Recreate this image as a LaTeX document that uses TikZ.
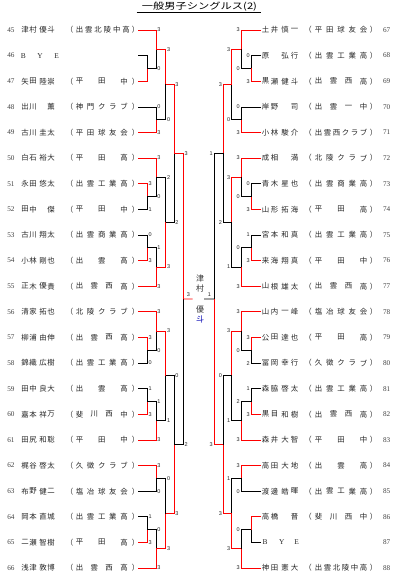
\documentclass[tikz,border=0pt]{standalone}
\usepackage{fontspec}
\setmainfont{Liberation Serif}
\newfontfamily\jpfont{Noto Sans CJK JP}
\newfontfamily\digfont{Liberation Sans}
\usetikzlibrary{calc}

\tikzset{
  win/.style={draw=red, line width=0.8pt},
  lose/.style={draw=black, line width=0.8pt},
  nm/.style={font=\jpfont\fontsize{7.4}{7.4}\selectfont, inner sep=0pt, text=black!85},
  bye/.style={font=\fontsize{7.4}{7.4}\selectfont, inner sep=0pt, text=black!85},
  numst/.style={font=\fontsize{7.2}{7.2}\selectfont, inner sep=0pt, text=black!75},
  scl/.style={font=\digfont\fontsize{5.5}{5.5}\selectfont, inner sep=0pt, anchor=west, xshift=1.2pt, text=black!85},
  scr/.style={font=\digfont\fontsize{5.5}{5.5}\selectfont, inner sep=0pt, anchor=east, xshift=-1.2pt, text=black!85},
  scc/.style={font=\digfont\fontsize{5.5}{5.5}\selectfont, inner sep=0pt, text=black!85},
  champ/.style={font=\jpfont\fontsize{8}{8}\selectfont, inner sep=0pt, text=black!80},
}

% match: #1 top entry, #2 bottom entry, #3 level, #4 new mid, #5/#6 styles, #7/#8 scores, #9 label style
\newcommand\bmatch[9]{%
  \coordinate (tmp) at ($(#1)!.5!(#2)$);
  \coordinate (#4) at (tmp -| #3);
  \draw[#5] (#1) -| (#4);
  \draw[#6] (#2) -| (#4);
  \node[#9] at (#1 -| #3) {#7};
  \node[#9] at (#2 -| #3) {#8};
}

\newcommand\plL[8]{%
  \coordinate (P#1) at (138,#2);
  \node[numst] (n#1) at (11,#2) {#1};
  \node[nm] at (25,#2) {#3};
  \node[nm] at (33,#2) {#4};
  \ifx\relax#6\relax \node[nm] at (51,#2) {#5};\else \node[nm] at (43,#2) {#5};\node[nm] at (51,#2) {#6};\fi
  \node[nm] at (69.5,#2) {（};
  \node[nm] at (135.5,#2) {）};
  \pgfmathsetmacro\aflast{#7==6 ? 126 : 124}
  \foreach \ch [count=\kk] in {#8} {\pgfmathsetmacro\ax{79.5+(\kk-1)*(\aflast-79.5)/(#7-1)}\node[nm] at (\ax,#2) {\ch};}
}
\newcommand\plR[8]{%
  \coordinate (P#1) at (261,#2);
  \node[numst] (n#1) at (386.7,#2) {#1};
  \node[nm] at (265.5,#2) {#3};
  \node[nm] at (274.5,#2) {#4};
  \ifx\relax#6\relax \node[nm] at (294.5,#2) {#5};\else \node[nm] at (285,#2) {#5};\node[nm] at (294.5,#2) {#6};\fi
  \node[nm] at (308,#2) {（};
  \node[nm] at (373.5,#2) {）};
  \foreach \ch [count=\kk] in {#8} {\pgfmathsetmacro\ax{318.5+(\kk-1)*(363.5-318.5)/(#7-1)}\node[nm] at (\ax,#2) {\ch};}
}
\newcommand\byeL[2]{%
  \coordinate (P#1) at (138,#2);
  \node[numst] (n#1) at (11,#2) {#1};
  \node[bye] at (23.3,#2) {B};\node[bye] at (40,#2) {Y};\node[bye] at (56.7,#2) {E};
}
\newcommand\byeR[2]{%
  \coordinate (P#1) at (261,#2);
  \node[numst] (n#1) at (386.7,#2) {#1};
  \node[bye] at (265,#2) {B};\node[bye] at (281.7,#2) {Y};\node[bye] at (296.7,#2) {E};
}

\begin{document}
\begin{tikzpicture}[x=1pt,y=-1pt]
\useasboundingbox (0,0) rectangle (404,587);
\fill[white] (0,0) rectangle (404,587);

% title
\node[font=\jpfont\fontsize{9}{9}\selectfont, inner sep=0pt, xscale=1.25] (title) at (199.5,6.2) {一般男子シングルス(2)};
\coordinate (ulA) at (136.7,12.2);
\coordinate (ulB) at (260.5,12.2);
\draw[line width=0.8pt] (ulA) -- (ulB);

% level coordinates
\coordinate (X1) at (147.3,0); \coordinate (X2) at (156,0); \coordinate (X3) at (165.7,0);
\coordinate (X4) at (174,0); \coordinate (X5) at (183.3,0);
\coordinate (R1) at (251,0); \coordinate (R2) at (241,0); \coordinate (R3) at (231.7,0);
\coordinate (R4) at (223.3,0); \coordinate (R5) at (214,0);

% left players
\plL{45}{30.0}{津}{村}{優}{斗}{6}{出,雲,北,陵,中,高}
\byeL{46}{55.6}
\plL{47}{81.2}{矢}{田}{陸}{崇}{3}{平,田,中}
\plL{48}{106.9}{出}{川}{薫}{}{5}{神,門,ク,ラ,ブ}
\plL{49}{132.5}{古}{川}{圭}{太}{5}{平,田,球,友,会}
\plL{50}{158.1}{白}{石}{裕}{大}{3}{平,田,高}
\plL{51}{183.7}{永}{田}{悠}{太}{5}{出,雲,工,業,高}
\plL{52}{209.3}{田}{中}{傑}{}{3}{平,田,中}
\plL{53}{235.0}{古}{川}{翔}{太}{5}{出,雲,商,業,高}
\plL{54}{260.6}{小}{林}{剛}{也}{3}{出,雲,高}
\plL{55}{286.2}{正}{木}{優}{貴}{4}{出,雲,西,高}
\plL{56}{311.8}{清}{家}{拓}{也}{5}{北,陵,ク,ラ,ブ}
\plL{57}{337.4}{柳}{浦}{由}{伸}{4}{出,雲,西,高}
\plL{58}{363.1}{錦}{織}{広}{樹}{5}{出,雲,工,業,高}
\plL{59}{388.7}{田}{中}{良}{大}{3}{出,雲,高}
\plL{60}{414.3}{嘉}{本}{祥}{万}{4}{斐,川,西,中}
\plL{61}{439.9}{田}{尻}{和}{聡}{3}{平,田,中}
\plL{62}{465.5}{梶}{谷}{啓}{太}{5}{久,徴,ク,ラ,ブ}
\plL{63}{491.2}{布}{野}{健}{二}{5}{塩,冶,球,友,会}
\plL{64}{516.8}{岡}{本}{直}{城}{5}{出,雲,工,業,高}
\plL{65}{542.4}{二}{瀬}{智}{樹}{3}{平,田,高}
\plL{66}{568.0}{浅}{津}{敦}{博}{4}{出,雲,西,高}

% right players
\plR{67}{30.0}{土}{井}{慎}{一}{5}{平,田,球,友,会}
\plR{68}{55.6}{原}{}{弘}{行}{5}{出,雲,工,業,高}
\plR{69}{81.2}{黒}{瀬}{健}{斗}{4}{出,雲,西,高}
\plR{70}{106.9}{岸}{野}{司}{}{4}{出,雲,一,中}
\plR{71}{132.5}{小}{林}{駿}{介}{6}{出,雲,西,ク,ラ,ブ}
\plR{72}{158.1}{成}{相}{満}{}{5}{北,陵,ク,ラ,ブ}
\plR{73}{183.7}{青}{木}{星}{也}{5}{出,雲,商,業,高}
\plR{74}{209.3}{山}{形}{拓}{海}{3}{平,田,高}
\plR{75}{235.0}{宮}{本}{和}{真}{5}{出,雲,工,業,高}
\plR{76}{260.6}{来}{海}{翔}{真}{3}{平,田,中}
\plR{77}{286.2}{山}{根}{雄}{太}{4}{出,雲,西,高}
\plR{78}{311.8}{山}{内}{一}{峰}{5}{塩,冶,球,友,会}
\plR{79}{337.4}{公}{田}{達}{也}{3}{平,田,高}
\plR{80}{363.1}{冨}{岡}{幸}{行}{5}{久,徴,ク,ラ,ブ}
\plR{81}{388.7}{森}{脇}{啓}{太}{5}{出,雲,工,業,高}
\plR{82}{414.3}{黒}{目}{和}{樹}{4}{出,雲,西,高}
\plR{83}{439.9}{森}{井}{大}{智}{3}{平,田,中}
\plR{84}{465.5}{高}{田}{大}{地}{3}{出,雲,高}
\plR{85}{491.2}{渡}{邊}{皓}{暉}{5}{出,雲,工,業,高}
\plR{86}{516.8}{高}{橋}{晋}{}{4}{斐,川,西,中}
\byeR{87}{542.4}
\plR{88}{568.0}{神}{田}{憲}{大}{6}{出,雲,北,陵,中,高}

% left bracket
\bmatch{P46}{P47}{X1}{a1}{lose}{win}{}{}{scl}
\bmatch{P45}{a1}{X2}{a2}{win}{lose}{3}{0}{scl}
\bmatch{P48}{P49}{X2}{a3}{lose}{win}{0}{3}{scl}
\bmatch{a2}{a3}{X3}{a4}{win}{lose}{3}{0}{scl}
\bmatch{P51}{P52}{X1}{b1}{win}{lose}{3}{1}{scl}
\bmatch{P50}{b1}{X2}{b2}{win}{lose}{3}{0}{scl}
\bmatch{P53}{P54}{X1}{b3}{lose}{win}{0}{3}{scl}
\bmatch{b3}{P55}{X2}{b4}{lose}{win}{1}{3}{scl}
\bmatch{b2}{b4}{X3}{b5}{lose}{win}{2}{3}{scl}
\bmatch{a4}{b5}{X4}{ab}{win}{lose}{3}{2}{scl}
\bmatch{P57}{P58}{X1}{c1}{win}{lose}{3}{0}{scl}
\bmatch{P56}{c1}{X2}{c2}{win}{lose}{3}{0}{scl}
\bmatch{P59}{P60}{X1}{c3}{lose}{win}{1}{3}{scl}
\bmatch{c3}{P61}{X2}{c4}{lose}{win}{1}{3}{scl}
\bmatch{c2}{c4}{X3}{c5}{win}{lose}{3}{1}{scl}
\bmatch{P62}{P63}{X2}{d1}{win}{lose}{3}{0}{scl}
\bmatch{P64}{P65}{X1}{d2}{lose}{win}{1}{3}{scl}
\bmatch{d2}{P66}{X2}{d3}{lose}{win}{0}{3}{scl}
\bmatch{d1}{d3}{X3}{d4}{lose}{win}{0}{3}{scl}
\bmatch{c5}{d4}{X4}{cd}{lose}{win}{0}{3}{scl}
\bmatch{ab}{cd}{X5}{LW}{win}{lose}{3}{2}{scl}

% right bracket
\bmatch{P68}{P69}{R1}{e1}{lose}{win}{0}{3}{scr}
\bmatch{P67}{e1}{R2}{e2}{win}{lose}{3}{0}{scr}
\bmatch{P70}{P71}{R2}{e3}{lose}{win}{0}{3}{scr}
\bmatch{e2}{e3}{R3}{e4}{win}{lose}{3}{0}{scr}
\bmatch{P73}{P74}{R1}{f1}{lose}{win}{0}{3}{scr}
\bmatch{P72}{f1}{R2}{f2}{win}{lose}{3}{0}{scr}
\bmatch{P75}{P76}{R1}{f3}{lose}{win}{1}{3}{scr}
\bmatch{f3}{P77}{R2}{f4}{lose}{win}{0}{3}{scr}
\bmatch{f2}{f4}{R3}{f5}{win}{lose}{3}{1}{scr}
\bmatch{e4}{f5}{R4}{ef}{win}{lose}{3}{2}{scr}
\bmatch{P79}{P80}{R1}{g1}{win}{lose}{3}{2}{scr}
\bmatch{P78}{g1}{R2}{g2}{win}{lose}{3}{0}{scr}
\bmatch{P81}{P82}{R1}{g3}{lose}{win}{1}{3}{scr}
\bmatch{g3}{P83}{R2}{g4}{lose}{win}{2}{3}{scr}
\bmatch{g2}{g4}{R3}{g5}{win}{lose}{3}{1}{scr}
\bmatch{P84}{P85}{R2}{h1}{win}{lose}{3}{0}{scr}
\bmatch{P86}{P87}{R1}{h2}{win}{lose}{}{}{scr}
\bmatch{h2}{P88}{R2}{h3}{lose}{win}{0}{3}{scr}
\bmatch{h1}{h3}{R3}{h4}{lose}{win}{1}{3}{scr}
\bmatch{g5}{h4}{R4}{gh}{lose}{win}{0}{3}{scr}
\bmatch{ef}{gh}{R5}{RW}{lose}{win}{1}{3}{scr}

% final
\coordinate (FL) at (192.7,299);
\coordinate (FR) at (204,299);
\draw[win] (LW) -- (FL);
\draw[lose] (RW) -- (FR);
\node[scc] (fsl) at (188.5,294.5) {3};
\node[scc] (fsr) at (209.5,294.5) {1};

% champion
\node[champ] (w1) at (200,278.3) {津};
\node[champ] (w2) at (200,288.3) {村};
\node[champ] (w3) at (200,309.3) {優};
\node[champ, text=blue!70!black] (w4) at (200,319.3) {斗};
\end{tikzpicture}
\end{document}
